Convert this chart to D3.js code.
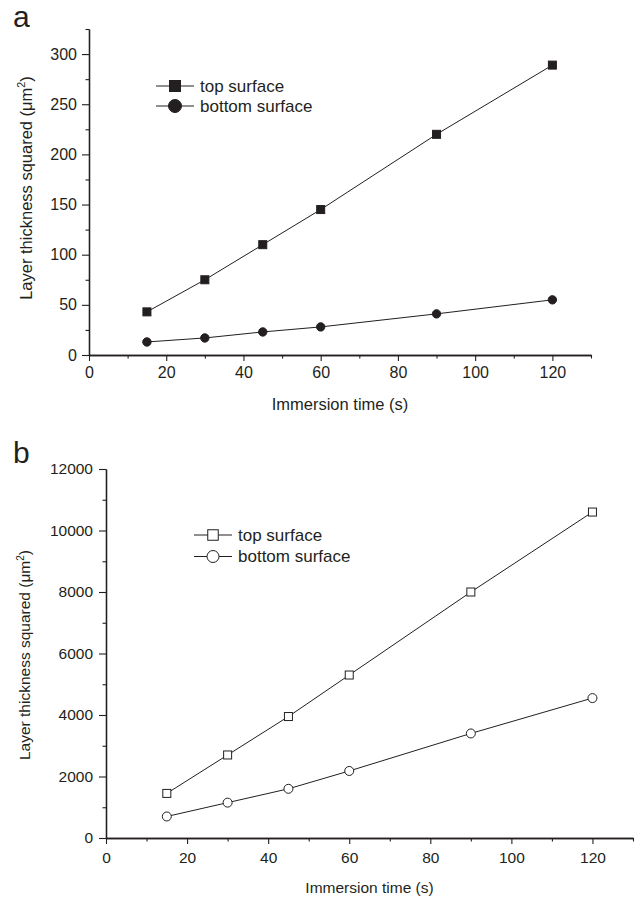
<!DOCTYPE html>
<html>
<head>
<meta charset="utf-8">
<script src="https://cdn.jsdelivr.net/npm/d3@7"></script>
<style>
  body { margin: 0; background: #fff; }
  text { font-family: "Liberation Sans", Arial, sans-serif; fill: #231f20; }
</style>
</head>
<body>
<div id="chart"></div>
<script>
// values
const times = [15, 30, 45, 60, 90, 120];
const topA = [43, 75, 110, 145, 220, 289];
const bottomA = [13, 17, 23, 28, 41, 55];
const topB = [1450, 2700, 3950, 5300, 8000, 10600];
const bottomB = [700, 1150, 1600, 2180, 3400, 4550];
const seriesNames = ["top surface", "bottom surface"];
const xTicks = [0, 20, 40, 60, 80, 100, 120];
const xMinor = [10, 30, 50, 70, 90, 110, 130];
const yTicksA = [0, 50, 100, 150, 200, 250, 300];
const yMinorA = [25, 75, 125, 175, 225, 275, 325];
const yTicksB = [0, 2000, 4000, 6000, 8000, 10000, 12000];
const yMinorB = [1000, 3000, 5000, 7000, 9000, 11000];

const ink = "#231f20";

const svg = d3.select("#chart").append("svg")
  .attr("width", 639).attr("height", 898);

function panel(opt) {
  const x = d3.scaleLinear().domain([0, 130]).range([opt.left, opt.right]);
  const y = d3.scaleLinear().domain(opt.yDomain).range([opt.bottom, opt.top]);
  const g = svg.append("g");

  // minor ticks first
  g.append("g").attr("transform", `translate(0,${opt.bottom})`)
    .call(d3.axisBottom(x).tickValues(xMinor).tickSize(3.5).tickSizeOuter(0).tickFormat(""));
  g.append("g").attr("transform", `translate(${opt.left},0)`)
    .call(d3.axisLeft(y).tickValues(opt.yMinor).tickSize(3.5).tickSizeOuter(0).tickFormat(""));

  g.append("g").attr("transform", `translate(0,${opt.bottom})`)
    .call(d3.axisBottom(x).tickValues(xTicks).tickSize(6).tickSizeOuter(0)
      .tickPadding(opt.xPad).tickFormat(d3.format("d")));
  g.append("g").attr("transform", `translate(${opt.left},0)`)
    .call(d3.axisLeft(y).tickValues(opt.yTicks).tickSize(7).tickSizeOuter(0)
      .tickPadding(opt.yPad).tickFormat(d3.format("d")));

  g.selectAll(".domain").attr("stroke", ink).attr("stroke-width", 1.3);
  g.selectAll(".tick line").attr("stroke", ink).attr("stroke-width", 1.1);
  g.selectAll(".tick text").attr("font-size", opt.tickFont).attr("fill", ink)
    .style("font-family", "Liberation Sans, Arial, sans-serif");

  // axis titles
  g.append("text")
    .attr("x", (opt.left + opt.right) / 2).attr("y", opt.xTitleY)
    .attr("text-anchor", "middle").attr("font-size", opt.titleFont)
    .text("Immersion time (s)");
  const yt = g.append("text")
    .attr("transform", `translate(${opt.yTitleX},${opt.yTitleCY}) rotate(-90)`)
    .attr("text-anchor", "middle").attr("font-size", opt.titleFont);
  yt.append("tspan").text("Layer thickness squared (\u03bcm");
  yt.append("tspan").attr("font-size", opt.titleFont * 0.65).attr("dy", -opt.titleFont * 0.4).text("2");
  yt.append("tspan").attr("dy", opt.titleFont * 0.4).text(")");

  // panel letter
  g.append("text").attr("x", 13).attr("y", opt.letterY)
    .attr("font-size", 30).text(opt.letter);

  const line = d3.line().x((d, i) => x(times[i])).y(d => y(d));
  const series = [opt.topVals, opt.botVals];
  series.forEach((vals, k) => {
    g.append("path").datum(vals)
      .attr("d", line).attr("fill", "none")
      .attr("stroke", ink).attr("stroke-width", 1);
    const fill = opt.filled ? ink : "#fff";
    if (k === 0) {
      g.selectAll(null).data(vals).join("rect")
        .attr("x", (d, i) => x(times[i]) - opt.sq / 2)
        .attr("y", d => y(d) - opt.sq / 2)
        .attr("width", opt.sq).attr("height", opt.sq)
        .attr("fill", fill).attr("stroke", ink).attr("stroke-width", 1);
    } else {
      g.selectAll(null).data(vals).join("circle")
        .attr("cx", (d, i) => x(times[i]))
        .attr("cy", d => y(d))
        .attr("r", opt.cr)
        .attr("fill", fill).attr("stroke", ink).attr("stroke-width", 1);
    }
  });

  // legend
  seriesNames.forEach((name, k) => {
    const ly = opt.legY + k * opt.legGap;
    g.append("line")
      .attr("x1", opt.legX).attr("x2", opt.legX + 38)
      .attr("y1", ly).attr("y2", ly)
      .attr("stroke", ink).attr("stroke-width", 1);
    const cx = opt.legX + 19;
    const fill = opt.filled ? ink : "#fff";
    if (k === 0) {
      g.append("rect").attr("x", cx - opt.lsq / 2).attr("y", ly - opt.lsq / 2)
        .attr("width", opt.lsq).attr("height", opt.lsq)
        .attr("fill", fill).attr("stroke", ink).attr("stroke-width", 1);
    } else {
      g.append("circle").attr("cx", cx).attr("cy", ly).attr("r", opt.lcr)
        .attr("fill", fill).attr("stroke", ink).attr("stroke-width", 1);
    }
    g.append("text").attr("x", opt.legX + 44).attr("y", ly)
      .attr("dy", "0.35em").attr("font-size", opt.legFont).text(name);
  });
}

panel({
  letter: "a", letterY: 27,
  left: 89, right: 591, top: 29, bottom: 355, yDomain: [0, 325],
  yTicks: yTicksA, yMinor: yMinorA,
  topVals: topA, botVals: bottomA, filled: true,
  sq: 8, cr: 4.2, lsq: 11, lcr: 6.5,
  tickFont: 16, titleFont: 16.5, legFont: 17,
  xPad: 6, yPad: 5,
  xTitleY: 410, yTitleX: 32, yTitleCY: 188,
  legX: 156, legY: 86, legGap: 20
});

panel({
  letter: "b", letterY: 463,
  left: 106, right: 633, top: 469, bottom: 838, yDomain: [0, 12000],
  yTicks: yTicksB, yMinor: yMinorB,
  topVals: topB, botVals: bottomB, filled: false,
  sq: 8, cr: 4.5, lsq: 10.5, lcr: 6,
  tickFont: 15.5, titleFont: 15.5, legFont: 17,
  xPad: 8, yPad: 6,
  xTitleY: 893, yTitleX: 30, yTitleCY: 655,
  legX: 194, legY: 535, legGap: 21.5
});
</script>
</body>
</html>
